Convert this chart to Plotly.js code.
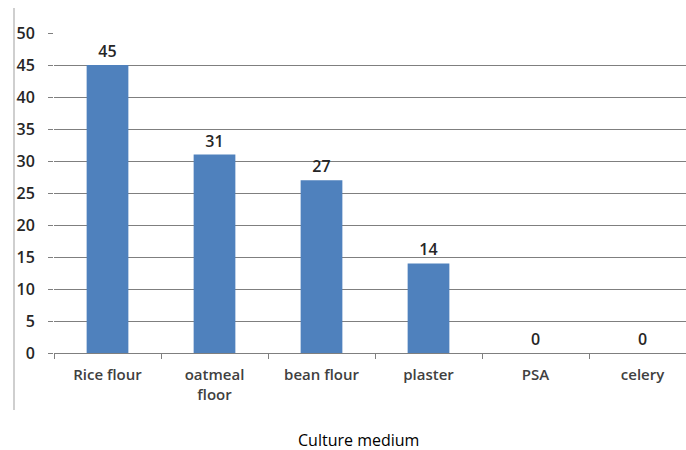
<!DOCTYPE html>
<html><head><meta charset="utf-8">
<script src="https://cdn.plot.ly/plotly-3.0.1.min.js"></script>
<style>html,body{margin:0;padding:0;background:#fff;}#chart{width:686px;height:450px;}</style>
</head><body><div id="chart"></div>
<script>
const categories = ["Rice flour", "oatmeal<br>floor", "bean flour", "plaster", "PSA", "celery"];
const values = [45, 31, 27, 14, 0, 0];
const yTicks = [0, 5, 10, 15, 20, 25, 30, 35, 40, 45, 50];
const xTitle = "Culture medium";

const font = "Open Sans, Lato, sans-serif";
const trace = {
  type: "bar",
  x: categories,
  y: values,
  marker: {color: "#4F81BD"},
  text: values.map(String),
  textposition: "outside",
  cliponaxis: false,
  textfont: {family: font, size: 16, color: "#262626", weight: 600},
  hoverinfo: "skip"
};
const layout = {
  width: 686, height: 450,
  margin: {l: 54, r: 0, t: 33, b: 97},
  paper_bgcolor: "#fff", plot_bgcolor: "#fff",
  showlegend: false,
  bargap: 0.61,
  xaxis: {
    type: "category",
    range: [-0.5, -0.5 + 632/107],
    showgrid: false,
    showline: true, linecolor: "#7f7f7f", linewidth: 1,
    ticks: "outside", tickson: "boundaries", ticklen: 5, tickcolor: "#7f7f7f",
    tickfont: {family: font, size: 15, color: "#404040", weight: 600},
    ticklabelstandoff: 8,
    fixedrange: true
  },
  yaxis: {
    range: [0, 50],
    tickvals: yTicks,
    ticktext: yTicks.map(String),
    showgrid: true, gridcolor: "#7f7f7f", gridwidth: 1,
    zeroline: false,
    showline: false,
    ticks: "outside", ticklen: 5, tickcolor: "#7f7f7f",
    tickfont: {family: font, size: 16, color: "#262626", weight: 600},
    ticklabelstandoff: 10,
    fixedrange: true
  },
  shapes: [{
    type: "line", xref: "paper", yref: "paper",
    x0: (14 - 54) / 632, x1: (14 - 54) / 632,
    y0: (353 - 410) / 320, y1: (353 - 8) / 320,
    line: {color: "#bfbfbf", width: 1.5}
  }],
  annotations: [{
    text: xTitle, xref: "paper", yref: "paper",
    x: (358 - 54) / 632, y: (353 - 440) / 320,
    xanchor: "center", yanchor: "middle", showarrow: false,
    font: {family: font, size: 16, color: "#000000"}
  }]
};
Plotly.newPlot("chart", [trace], layout, {displayModeBar: false, staticPlot: true});
</script>
</body></html>
